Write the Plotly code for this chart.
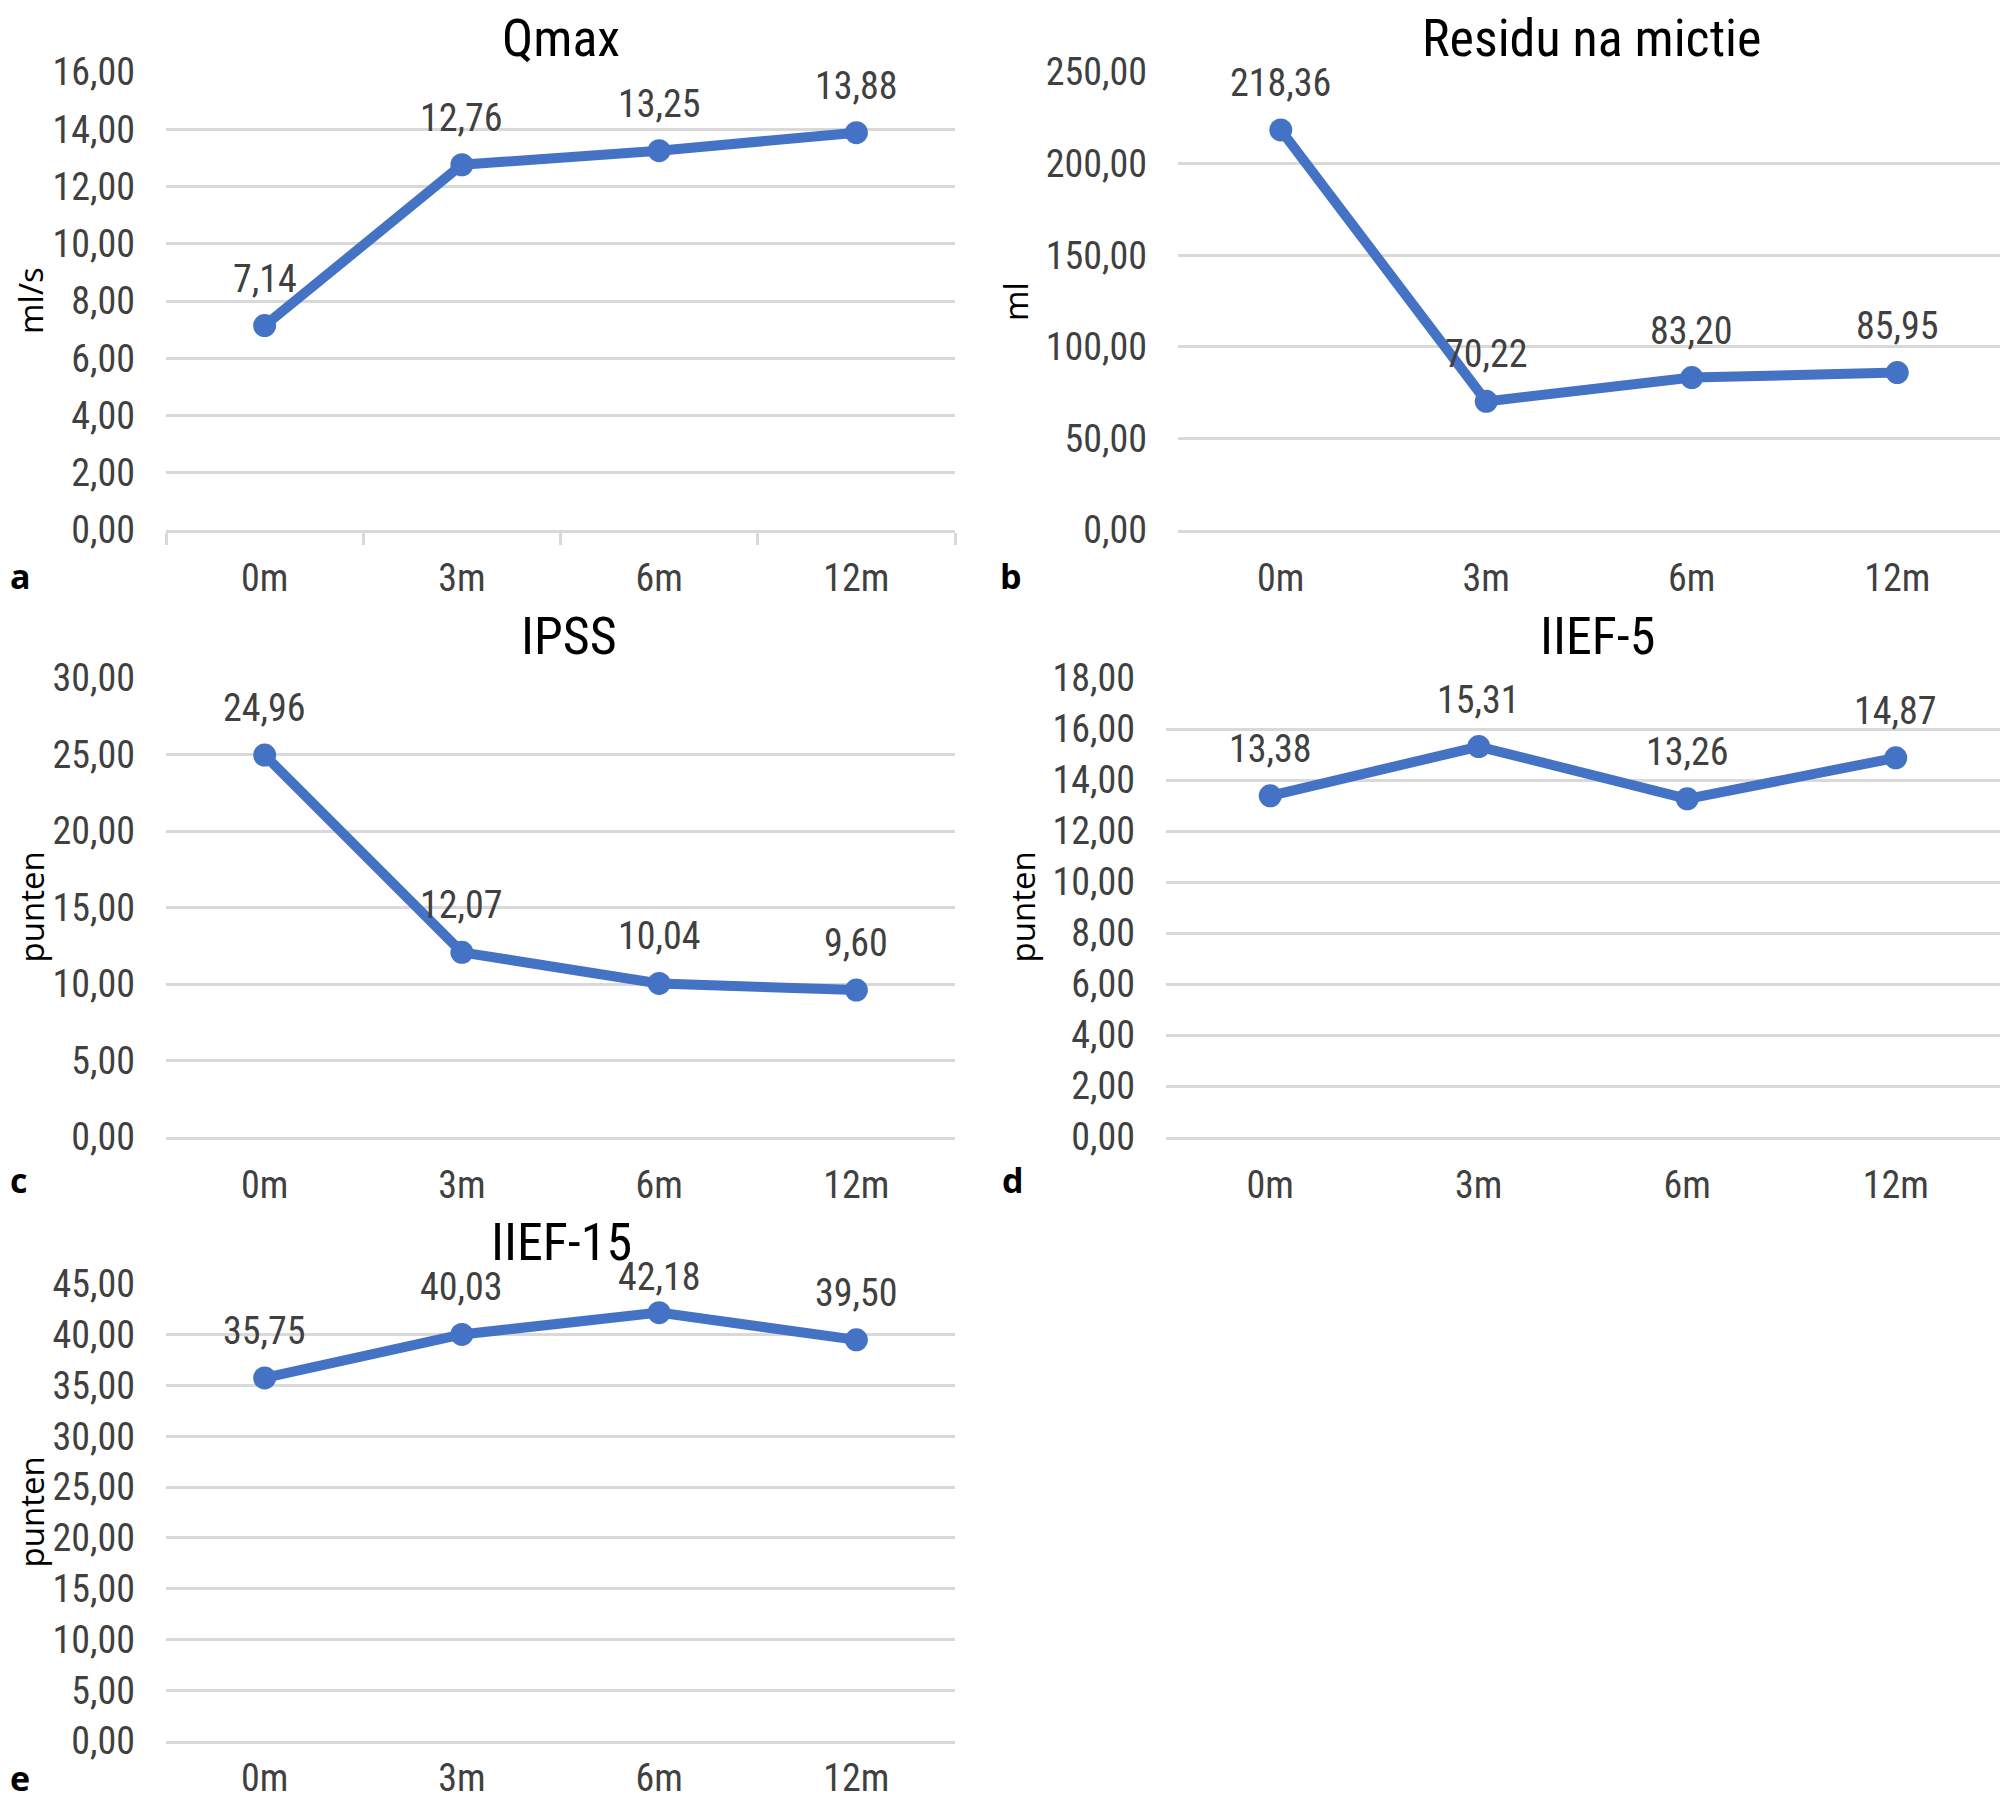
import plotly.graph_objects as go

# shared x categories
months = ["0m", "3m", "6m", "12m"]

# series per panel
qmax = [7.14, 12.76, 13.25, 13.88]
residu = [218.36, 70.22, 83.20, 85.95]
ipss = [24.96, 12.07, 10.04, 9.60]
iief5 = [13.38, 15.31, 13.26, 14.87]
iief15 = [35.75, 40.03, 42.18, 39.50]

titles = ["Qmax", "Residu na mictie", "IPSS", "IIEF-5", "IIEF-15"]
units = ["ml/s", "ml", "punten", "punten", "punten"]
letters = ["a", "b", "c", "d", "e"]
y_max = [16, 250, 30, 18, 45]
y_step = [2, 50, 5, 2, 5]

# page is 2008x1809, the html body adds an 8px margin around the figure
PAGE_W, PAGE_H, OFF = 2008, 1809, 8
W, H = PAGE_W - 2 * OFF, PAGE_H - 2 * OFF
FONT = "Liberation Sans Narrow, Arial Narrow, Roboto Condensed, Liberation Sans, sans-serif"
BLUE = "#4472C4"
GRID = "#d9d9d9"


def fx(px):
    return (px - OFF) / W


def fy(py):
    return 1 - (py - OFF) / H


# panel boxes in page pixels: left, right, top, bottom
boxes = [
    (166, 955, 72, 530),
    (1178, 2000, 72, 530),
    (166, 955, 678, 1137),
    (1166, 2000, 678, 1137),
    (166, 955, 1284, 1741),
]
title_x = [561, 1591, 569, 1597, 561]
title_y = [38, 38, 636, 636, 1242]
label_y = [576, 576, 1180, 1180, 1778]
letter_x = [8, 998, 8, 1000, 8]
unit_x = [31, 1016, 31, 1022, 31]
x_standoff = [13, 13, 13, 13, 2]

fig = go.Figure()
annotations = []
series = [qmax, residu, ipss, iief5, iief15]

for i, vals in enumerate(series):
    n = "" if i == 0 else str(i + 1)
    l, r, t, b = boxes[i]
    fig.add_trace(go.Scatter(
        x=months, y=vals, mode="lines+markers",
        line=dict(color=BLUE, width=10),
        marker=dict(color=BLUE, size=23),
        xaxis="x" + n, yaxis="y" + n, showlegend=False,
    ))
    fig.update_layout(**{
        "xaxis" + n: dict(
            domain=[fx(l), fx(r)], anchor="y" + n, type="category", range=[-0.5, 3.5],
            showgrid=False, showline=True, linecolor=GRID, linewidth=2.5,
            ticks="outside" if i == 0 else "", tickson="boundaries",
            ticklen=12, tickcolor=GRID, tickwidth=2.5,
            ticklabelstandoff=x_standoff[i], automargin=False,
            tickfont=dict(family=FONT, size=38, color="#404040"),
            fixedrange=True,
        ),
        "yaxis" + n: dict(
            domain=[fy(b), fy(t)], anchor="x" + n, range=[0, y_max[i]],
            dtick=y_step[i], tick0=0, tickformat=".2f",
            showgrid=True, gridcolor=GRID, gridwidth=2.5,
            zeroline=False, showline=False, ticks="",
            ticklabelstandoff=30, automargin=False,
            tickfont=dict(family=FONT, size=38, color="#404040"),
            fixedrange=True,
        ),
    })
    # value labels above points, kept from running far past the top gridline
    ppu = (b - t) / y_max[i]
    for m, v in zip(months, vals):
        shift = min(47, (y_max[i] - v) * ppu + 7)
        annotations.append(dict(
            x=m, y=v, xref="x" + n, yref="y" + n, text=f"{v:.2f}".replace(".", ","),
            showarrow=False, yshift=shift,
            font=dict(family=FONT, size=38, color="#404040"),
        ))
    annotations.append(dict(
        x=fx(title_x[i]), y=fy(title_y[i]), xref="paper", yref="paper",
        text=titles[i], showarrow=False, xanchor="center", yanchor="middle",
        font=dict(family=FONT, size=52, color="#000000"),
    ))
    annotations.append(dict(
        x=fx(unit_x[i]), y=fy((t + b) / 2), xref="paper", yref="paper",
        text=units[i], showarrow=False, textangle=-90,
        xanchor="center", yanchor="middle",
        font=dict(family="Open Sans, sans-serif", size=33, color="#000000"),
    ))
    annotations.append(dict(
        x=fx(letter_x[i]), y=fy(label_y[i]), xref="paper", yref="paper",
        text="<b>" + letters[i] + "</b>", showarrow=False,
        xanchor="left", yanchor="middle",
        font=dict(family="Open Sans, sans-serif", size=34, color="#000000"),
    ))

fig.update_layout(
    width=W, height=H,
    margin=dict(l=0, r=0, t=0, b=0, autoexpand=False),
    plot_bgcolor="white", paper_bgcolor="white",
    separators=",.",
    annotations=annotations,
)

fig.write_html("out.html")
